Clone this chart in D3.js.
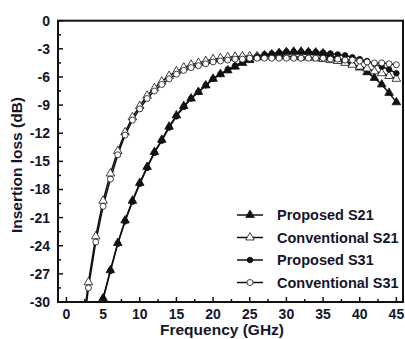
<!DOCTYPE html>
<html>
<head>
<meta charset="utf-8">
<script src="https://cdn.jsdelivr.net/npm/d3@7"></script>
<style>
  body { margin: 0; background: #fff; }
  text { font-family: "Liberation Sans", Arial, sans-serif; font-weight: bold; fill: #15152a; }
</style>
</head>
<body>
<svg id="chart" width="405" height="339"></svg>
<script>
const freqs = d3.range(2, 46);

const proposedS21 = [-38, -36, -32.5, -29.6, -26.6, -23.7, -21.3, -19.2, -17.3, -15.6, -14.0, -12.7, -11.3, -10.1,
  -9.1, -8.3, -7.6, -6.9, -6.2, -5.7, -5.3, -4.9, -4.5, -4.2, -3.9, -3.7, -3.6, -3.45, -3.35, -3.3, -3.3,
  -3.35, -3.4, -3.5, -3.7, -4.0, -4.3, -4.6, -5.0, -5.5, -6.1, -6.8, -7.7, -8.7];
const conventionalS21 = [-34, -27.9, -23.0, -19.2, -16.3, -13.9, -11.9, -10.3, -9.1, -8.0, -7.2, -6.5, -5.9, -5.4,
  -5.0, -4.7, -4.5, -4.3, -4.1, -4.0, -3.9, -3.85, -3.8, -3.8, -3.8, -3.8, -3.8, -3.8, -3.8, -3.85, -3.9,
  -3.9, -4.0, -4.1, -4.2, -4.3, -4.5, -4.7, -4.9, -5.1, -5.4, -5.6, -5.9, -6.2];
const proposedS31 = [-38, -36, -32.6, -29.7, -26.7, -23.8, -21.4, -19.3, -17.4, -15.7, -14.1, -12.8, -11.4, -10.2,
  -9.2, -8.3, -7.6, -6.9, -6.2, -5.7, -5.2, -4.8, -4.4, -4.1, -3.8, -3.6, -3.5, -3.4, -3.3, -3.3, -3.3,
  -3.3, -3.35, -3.4, -3.5, -3.6, -3.7, -3.9, -4.1, -4.3, -4.6, -4.9, -5.2, -5.6];
const conventionalS31 = [-35, -28.5, -23.6, -19.8, -16.9, -14.3, -12.2, -10.6, -9.4, -8.3, -7.5, -6.8, -6.2, -5.7,
  -5.3, -5.0, -4.8, -4.6, -4.4, -4.3, -4.2, -4.1, -4.1, -4.0, -4.0, -4.0, -4.0, -4.0, -4.0, -4.0, -4.0,
  -4.0, -4.0, -4.0, -4.1, -4.1, -4.2, -4.2, -4.3, -4.4, -4.5, -4.5, -4.6, -4.7];

const xTicks = [0, 5, 10, 15, 20, 25, 30, 35, 40, 45];
const yTicks = [0, -3, -6, -9, -12, -15, -18, -21, -24, -27, -30];

const series = [
  { name: "Proposed S21", values: proposedS21, marker: "triangle", filled: true },
  { name: "Conventional S21", values: conventionalS21, marker: "triangle", filled: false },
  { name: "Proposed S31", values: proposedS31, marker: "circle", filled: true },
  { name: "Conventional S31", values: conventionalS31, marker: "circle", filled: false }
];

const svg = d3.select("#chart");
const plotLeft = 58, plotRight = 403, plotTop = 20.7, plotBottom = 302;

const x = d3.scaleLinear().domain([-1.15, 45.9]).range([plotLeft, plotRight]);
const y = d3.scaleLinear().domain([-30, 0]).range([plotBottom, plotTop]);

svg.append("clipPath").attr("id", "clip")
  .append("rect").attr("x", plotLeft).attr("y", plotTop)
  .attr("width", plotRight - plotLeft).attr("height", plotBottom - plotTop);

// ticks, inward
const xMinor = d3.range(0, 46, 2.5).filter(v => !xTicks.includes(v));
const yMinor = d3.range(-28.5, 0, 3);

svg.append("g").selectAll("line").data(xTicks).join("line")
  .attr("x1", d => x(d)).attr("x2", d => x(d)).attr("y1", plotBottom).attr("y2", plotBottom - 5)
  .attr("stroke", "#111").attr("stroke-width", 1.5);
svg.append("g").selectAll("line").data(xMinor).join("line")
  .attr("x1", d => x(d)).attr("x2", d => x(d)).attr("y1", plotBottom).attr("y2", plotBottom - 3)
  .attr("stroke", "#111").attr("stroke-width", 1.5);
svg.append("g").selectAll("line").data(yTicks).join("line")
  .attr("x1", plotLeft).attr("x2", plotLeft + 5).attr("y1", d => y(d)).attr("y2", d => y(d))
  .attr("stroke", "#111").attr("stroke-width", 1.5);
svg.append("g").selectAll("line").data(yMinor).join("line")
  .attr("x1", plotLeft).attr("x2", plotLeft + 3).attr("y1", d => y(d)).attr("y2", d => y(d))
  .attr("stroke", "#111").attr("stroke-width", 1.5);

svg.append("g").selectAll("text").data(xTicks).join("text")
  .attr("x", d => x(d)).attr("y", 319).attr("text-anchor", "middle")
  .style("font-size", "14px").text(d => d);
svg.append("g").selectAll("text").data(yTicks).join("text")
  .attr("x", 50).attr("y", d => y(d) + 5).attr("text-anchor", "end")
  .style("font-size", "14px").text(d => d);

svg.append("text").attr("x", 222).attr("y", 335).attr("text-anchor", "middle")
  .style("font-size", "15.5px").text("Frequency (GHz)");
svg.append("text").attr("transform", "translate(22,165) rotate(-90)").attr("text-anchor", "middle")
  .style("font-size", "15.5px").text("Insertion loss (dB)");

// curves
const line = d3.line().x((d, i) => x(freqs[i])).y(d => y(d));
const plot = svg.append("g").attr("clip-path", "url(#clip)");

function drawMarker(g, type, filled, cx, cy) {
  if (type === "triangle") {
    g.append("path")
      .attr("d", d3.symbol().type(d3.symbolTriangle).size(32)())
      .attr("transform", `translate(${cx},${cy})`)
      .attr("fill", filled ? "#111" : "#fff").attr("stroke", "#111").attr("stroke-width", 0.8);
  } else {
    g.append("circle").attr("cx", cx).attr("cy", cy).attr("r", filled ? 2.8 : 3)
      .attr("fill", filled ? "#111" : "#fff").attr("stroke", "#111").attr("stroke-width", 0.8);
  }
}

series.forEach(s => {
  plot.append("path").datum(s.values).attr("d", line)
    .attr("fill", "none").attr("stroke", "#111").attr("stroke-width", 1.5);
});
series.forEach(s => {
  const g = plot.append("g");
  s.values.forEach((v, i) => drawMarker(g, s.marker, s.filled, x(freqs[i]), y(v)));
});

// frame
svg.append("rect").attr("x", plotLeft).attr("y", plotTop)
  .attr("width", plotRight - plotLeft).attr("height", plotBottom - plotTop)
  .attr("fill", "none").attr("stroke", "#111").attr("stroke-width", 2);

// legend
const legend = svg.append("g");
series.forEach((s, i) => {
  const ly = 215 + i * 22.5;
  legend.append("line").attr("x1", 237).attr("x2", 263).attr("y1", ly).attr("y2", ly)
    .attr("stroke", "#111").attr("stroke-width", 1.5);
  drawMarker(legend, s.marker, s.filled, 250, ly);
  legend.append("text").attr("x", 277).attr("y", ly + 5).style("font-size", "14.5px").text(s.name);
});
</script>
</body>
</html>
